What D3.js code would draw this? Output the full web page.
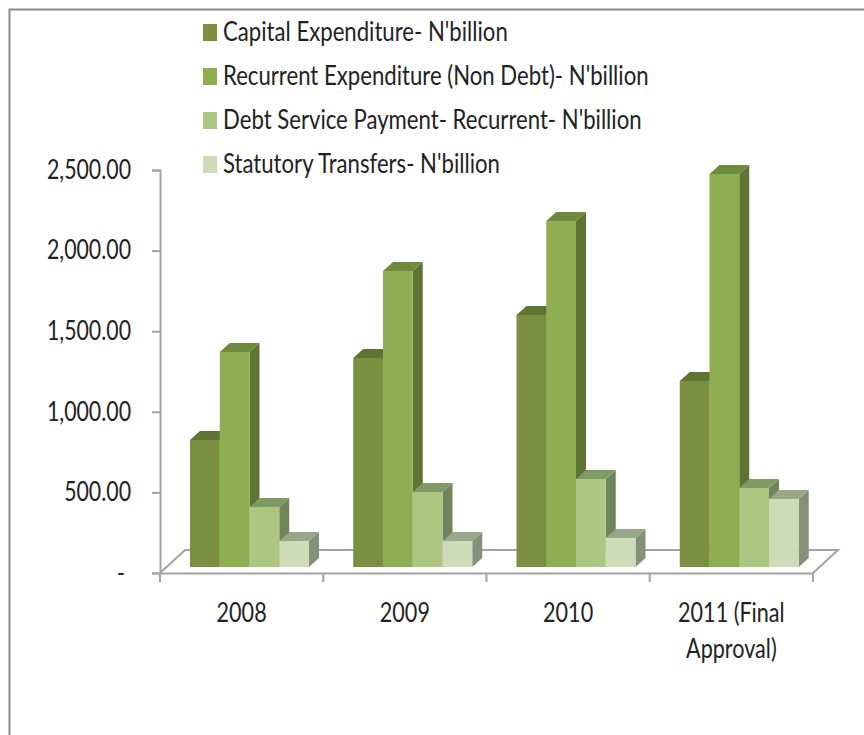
<!DOCTYPE html>
<html>
<head>
<meta charset="utf-8">
<script src="https://cdn.jsdelivr.net/npm/d3@7"></script>
<style>
  html, body { margin: 0; background: #fff; }
  svg { display: block; }
  text { font-family: Lato, "Liberation Sans", sans-serif; fill: #222; }
</style>
</head>
<body>
<svg width="864" height="735"></svg>
<script>
const years = ['2008', '2009', '2010', '2011 (Final Approval)'];
const seriesNames = [
  "Capital Expenditure- N'billion",
  "Recurrent Expenditure (Non Debt)- N'billion",
  "Debt Service Payment- Recurrent- N'billion",
  "Statutory Transfers- N'billion"
];
const capital = [788, 1297, 1563, 1154];
const recurrent = [1334, 1836, 2146, 2438];
const debtService = [372, 465, 546, 490];
const statutory = [161, 161, 180, 422];
const yTicks = [0, 500, 1000, 1500, 2000, 2500];

const seriesValues = [capital, recurrent, debtService, statutory];
const frontColors = ['#7b8f40', '#8fae52', '#adc681', '#cddbb8'];
const topColors = ['#5f7332', '#6f8a3e', '#7f9a64', '#96a888'];
const sideColors = ['#5d7030', '#5e7432', '#72845a', '#85907a'];

const axisColor = '#a3a3a3';
const depthX = 10, depthY = 9;   // bar depth
const floorDX = 25, floorDY = 23; // floor depth
const baseLift = 6;              // bars sit a bit behind the front floor edge
const fontSize = 26;

const svg = d3.select('svg');

// squeeze a text selection horizontally, keeps it real text
// (the original font is narrower than Lato)
function condense(sel, factor) {
  sel.each(function () {
    const len = this.getComputedTextLength();
    d3.select(this)
      .attr('textLength', len * factor)
      .attr('lengthAdjust', 'spacingAndGlyphs');
  });
}

// outer frame, runs off the right and bottom of the picture
svg.append('path')
  .attr('d', 'M9.5,735V9.5H864')
  .attr('fill', 'none')
  .attr('stroke', '#8c8c8c')
  .attr('stroke-width', 2);

const x = d3.scaleBand().domain(years).range([160, 813]);
const y = d3.scaleLinear().domain([0, 2500]).range([573, 170]);
const inner = d3.scaleBand().domain(d3.range(4)).range([30, 149]);

// floor
const floor = d3.path();
floor.moveTo(160, 573);
floor.lineTo(160 + floorDX, 573 - floorDY);
floor.lineTo(813 + floorDX, 573 - floorDY);
floor.lineTo(813, 573);
svg.append('path')
  .attr('d', floor.toString())
  .attr('fill', 'none')
  .attr('stroke', axisColor)
  .attr('stroke-width', 2);

// y axis
const yAxis = svg.append('g')
  .attr('transform', 'translate(160,0)')
  .call(d3.axisLeft(y)
    .tickValues(yTicks)
    .tickSize(8)
    .tickPadding(21)
    .tickFormat(d => d === 0 ? '-' : d3.format(',.2f')(d)));
yAxis.selectAll('path, line').attr('stroke', axisColor).attr('stroke-width', 2);
yAxis.selectAll('text')
  .attr('font-size', fontSize)
  .style('font-family', 'Lato')
  .style('fill', '#222')
  .call(condense, 0.82);
yAxis.selectAll('.tick').filter(d => d === 0).select('text').attr('dx', -6);

// x axis
const xAxis = svg.append('g')
  .attr('transform', 'translate(0,573)')
  .call(d3.axisBottom(x).tickSize(0).tickFormat(''));
xAxis.selectAll('path').attr('stroke', axisColor).attr('stroke-width', 2);
svg.selectAll('.xtick')
  .data(d3.range(years.length + 1))
  .join('line')
  .attr('class', 'xtick')
  .attr('x1', i => 160 + i * x.step())
  .attr('x2', i => 160 + i * x.step())
  .attr('y1', 573)
  .attr('y2', 582)
  .attr('stroke', axisColor)
  .attr('stroke-width', 2);

// category labels, last one wraps
years.forEach(year => {
  const lines = year === '2011 (Final Approval)' ? ['2011 (Final', 'Approval)'] : [year];
  lines.forEach((line, i) => {
    svg.append('text')
      .attr('x', x(year) + x.bandwidth() / 2)
      .attr('y', 622 + i * 36)
      .attr('text-anchor', 'middle')
      .attr('font-size', fontSize)
      .text(line)
      .call(condense, 0.83);
  });
});

// bars, left to right so the next front hides the side of the previous one
years.forEach((year, yi) => {
  seriesValues.forEach((vals, si) => {
    const left = x(year) + inner(si);
    const right = left + inner.bandwidth();
    const bottom = y(0) - baseLift;
    const top = y(vals[yi]) - baseLift;
    const g = svg.append('g');
    g.append('path')
      .attr('d', `M${right},${top}L${right + depthX},${top - depthY}L${right + depthX},${bottom - depthY}L${right},${bottom}Z`)
      .attr('fill', sideColors[si]);
    g.append('path')
      .attr('d', `M${left},${top}L${left + depthX},${top - depthY}L${right + depthX},${top - depthY}L${right},${top}Z`)
      .attr('fill', topColors[si]);
    g.append('rect')
      .attr('x', left)
      .attr('y', top)
      .attr('width', inner.bandwidth())
      .attr('height', bottom - top)
      .attr('fill', frontColors[si]);
  });
});

// legend
const legendY = d3.scalePoint().domain(d3.range(4)).range([32, 164]);
seriesNames.forEach((name, i) => {
  svg.append('rect')
    .attr('x', 203)
    .attr('y', legendY(i) - 8)
    .attr('width', 14)
    .attr('height', 17)
    .attr('fill', frontColors[i]);
  svg.append('text')
    .attr('x', 223)
    .attr('y', legendY(i) + 9)
    .attr('font-size', fontSize)
    .text(name)
    .call(condense, 0.852);
});
</script>
</body>
</html>
